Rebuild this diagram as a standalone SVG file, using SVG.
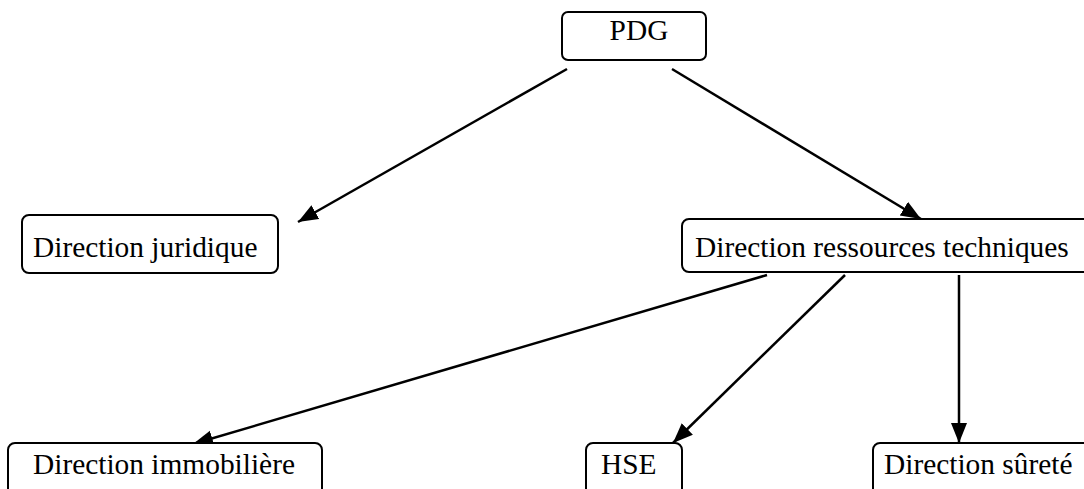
<svg xmlns="http://www.w3.org/2000/svg" width="1084" height="489" viewBox="0 0 1084 489">
<style>
.box{fill:#fff;stroke:#000;stroke-width:2}
.lbl{font-family:"Liberation Serif","Times New Roman",serif;font-size:29.4px;fill:#000}
.edge{stroke:#000;stroke-width:2.5;fill:none}
</style>
<defs>
<marker id="ah" markerUnits="userSpaceOnUse" markerWidth="22" markerHeight="18" refX="20" refY="8" orient="auto">
<path d="M0,0 L20,8 L0,16 Z" fill="#000"/>
</marker>
</defs>
<rect width="1084" height="489" fill="#fff"/>
<g id="connectors">
<line class="edge" x1="567" y1="69" x2="298" y2="222" marker-end="url(#ah)"/>
<line class="edge" x1="672" y1="69" x2="921" y2="219" marker-end="url(#ah)"/>
<line class="edge" x1="767" y1="275" x2="193" y2="444" marker-end="url(#ah)"/>
<line class="edge" x1="845" y1="275" x2="673" y2="443" marker-end="url(#ah)"/>
<line class="edge" x1="959" y1="275" x2="959" y2="443" marker-end="url(#ah)"/>
</g>
<g id="pdg">
<rect class="box" x="562" y="12" width="144" height="48" rx="6"/>
<text class="lbl" x="639" y="40" text-anchor="middle">PDG</text>
</g>
<g id="juridique">
<rect class="box" x="22" y="215" width="256" height="58" rx="7"/>
<text class="lbl" x="33" y="257">Direction juridique</text>
</g>
<g id="ressources">
<rect class="box" x="682" y="219" width="410" height="53" rx="7"/>
<text class="lbl" x="695" y="257">Direction ressources techniques</text>
</g>
<g id="immobiliere">
<rect class="box" x="8" y="443" width="314" height="60" rx="7"/>
<text class="lbl" x="33" y="474">Direction immobilière</text>
</g>
<g id="hse">
<rect class="box" x="586" y="443" width="96" height="60" rx="7"/>
<text class="lbl" x="601" y="474">HSE</text>
</g>
<g id="surete">
<rect class="box" x="873" y="443" width="220" height="60" rx="7"/>
<text class="lbl" x="884" y="474">Direction sûreté</text>
</g>
</svg>
